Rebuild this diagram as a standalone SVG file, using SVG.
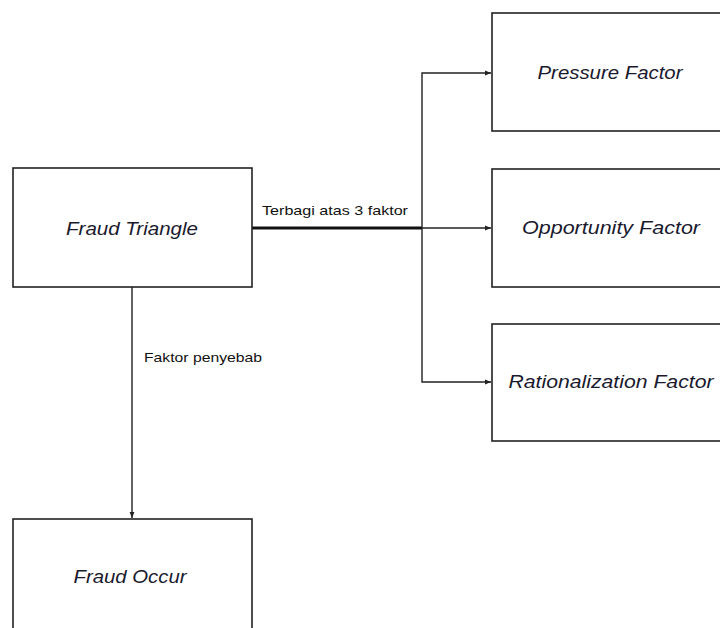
<svg xmlns="http://www.w3.org/2000/svg" width="720" height="628" viewBox="0 0 720 628">
<style>
.box{fill:#fff;stroke:#222;stroke-width:1.6}
.lbl{font-family:"Liberation Sans",Arial,sans-serif;font-style:italic;font-size:18px;fill:#1a1a2e;text-anchor:middle}
.note{font-family:"Liberation Sans",Arial,sans-serif;font-size:13px;fill:#111}
.ln{fill:none;stroke:#222;stroke-width:1.4}
</style>
<defs>
<marker id="ah" viewBox="0 0 10 10" refX="10" refY="5" markerWidth="6" markerHeight="6" markerUnits="userSpaceOnUse" orient="auto">
<path d="M0,1 L10,5 L0,9 Z" fill="#222"/>
</marker>
</defs>
<rect width="720" height="628" fill="#fff"/>
<g id="connectors">
<line x1="252" y1="228" x2="422" y2="228" stroke="#111" stroke-width="3"/>
<polyline class="ln" points="422,228 422,73 491,73" marker-end="url(#ah)"/>
<line class="ln" x1="422" y1="228" x2="491" y2="228" marker-end="url(#ah)"/>
<polyline class="ln" points="422,228 422,382 491,382" marker-end="url(#ah)"/>
<line class="ln" x1="132" y1="287" x2="132" y2="518" marker-end="url(#ah)"/>
<text class="note" x="262" y="215" textLength="146" lengthAdjust="spacingAndGlyphs">Terbagi atas 3 faktor</text>
<text class="note" x="144" y="362" textLength="118" lengthAdjust="spacingAndGlyphs">Faktor penyebab</text>
</g>
<g id="fraud-triangle">
<rect class="box" x="13" y="168" width="239" height="119"/>
<text class="lbl" x="132" y="235" textLength="132" lengthAdjust="spacingAndGlyphs">Fraud Triangle</text>
</g>
<g id="pressure-factor">
<rect class="box" x="492" y="13" width="240" height="118"/>
<text class="lbl" x="610" y="79" textLength="145" lengthAdjust="spacingAndGlyphs">Pressure  Factor</text>
</g>
<g id="opportunity-factor">
<rect class="box" x="492" y="169" width="240" height="118"/>
<text class="lbl" x="611" y="234" textLength="178" lengthAdjust="spacingAndGlyphs">Opportunity Factor</text>
</g>
<g id="rationalization-factor">
<rect class="box" x="492" y="324" width="240" height="117"/>
<text class="lbl" x="611" y="388" textLength="205" lengthAdjust="spacingAndGlyphs">Rationalization Factor</text>
</g>
<g id="fraud-occur">
<rect class="box" x="13" y="519" width="239" height="130"/>
<text class="lbl" x="130" y="583" textLength="113" lengthAdjust="spacingAndGlyphs">Fraud Occur</text>
</g>
</svg>
